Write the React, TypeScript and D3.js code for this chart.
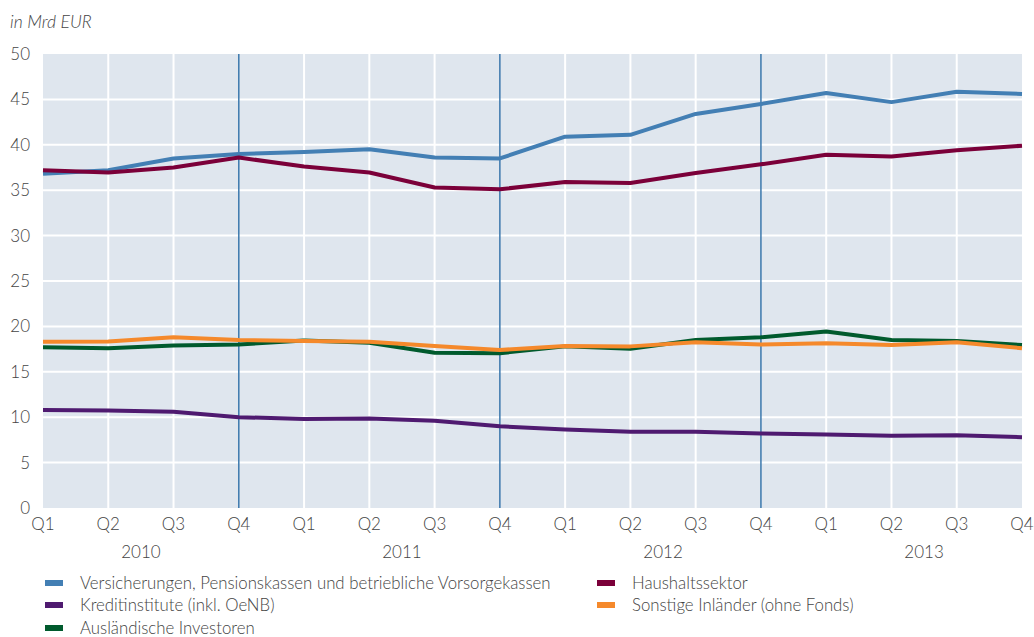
import React, { useEffect, useRef } from "react"
import * as d3 from "d3"

const quarters = ["Q1", "Q2", "Q3", "Q4"]
const years = ["2010", "2011", "2012", "2013"]
const yTicks = [0, 5, 10, 15, 20, 25, 30, 35, 40, 45, 50]

const versicherungen = [36.8, 37.2, 38.5, 39.0, 39.2, 39.5, 38.6, 38.5, 40.9, 41.1, 43.4, 44.5, 45.7, 44.7, 45.85, 45.6]
const haushalte = [37.2, 36.95, 37.5, 38.6, 37.6, 36.95, 35.3, 35.1, 35.9, 35.8, 36.9, 37.85, 38.9, 38.7, 39.4, 39.9]
const kreditinstitute = [10.8, 10.75, 10.6, 10.0, 9.8, 9.85, 9.6, 9.0, 8.65, 8.4, 8.4, 8.2, 8.1, 7.95, 8.0, 7.8]
const sonstige = [18.3, 18.35, 18.8, 18.5, 18.4, 18.3, 17.85, 17.4, 17.85, 17.8, 18.25, 18.0, 18.15, 17.95, 18.25, 17.6]
const ausland = [17.7, 17.6, 17.9, 18.0, 18.45, 18.2, 17.1, 17.05, 17.8, 17.55, 18.5, 18.8, 19.45, 18.5, 18.4, 17.95]

const series = [
  { name: "Versicherungen, Pensionskassen und betriebliche Vorsorgekassen", values: versicherungen, color: "#437fb4" },
  { name: "Haushaltssektor", values: haushalte, color: "#7b0039" },
  { name: "Kreditinstitute (inkl. OeNB)", values: kreditinstitute, color: "#4f1a70" },
  { name: "Sonstige Inländer (ohne Fonds)", values: sonstige, color: "#f5892b" },
  { name: "Ausländische Investoren", values: ausland, color: "#005a2d" },
]

const font = "Lato, 'Open Sans', sans-serif"
const textColor = "#444"

export default function App() {
  const ref = useRef<SVGSVGElement>(null)

  useEffect(() => {
    const svg = d3.select(ref.current)
    svg.selectAll("*").remove()

    const width = 1034
    const height = 637
    const margin = { top: 54, left: 43, right: 12, bottom: 129 }
    const innerWidth = width - margin.left - margin.right
    const innerHeight = height - margin.top - margin.bottom

    const labels = years.flatMap(y => quarters.map(q => `${q} ${y}`))

    const x = d3.scalePoint().domain(labels).range([0, innerWidth])
    const y = d3.scaleLinear().domain([0, 50]).range([innerHeight, 0])

    svg.append("text")
      .attr("x", 10).attr("y", 28)
      .attr("font-family", font).attr("font-style", "italic").attr("font-weight", 300)
      .attr("font-size", 17.5).attr("fill", textColor)
      .text("in Mrd EUR")

    const g = svg.append("g").attr("transform", `translate(${margin.left},${margin.top})`)

    g.append("rect")
      .attr("width", innerWidth).attr("height", innerHeight)
      .attr("fill", "#dfe6ee")

    // horizontal grid
    g.selectAll(".hgrid").data(yTicks.filter(t => t > 0 && t < 50)).enter().append("line")
      .attr("x1", 0).attr("x2", innerWidth)
      .attr("y1", d => y(d)).attr("y2", d => y(d))
      .attr("stroke", "#fff").attr("stroke-width", 2)

    // vertical grid, year separators in blue
    g.selectAll(".vgrid").data(labels.slice(1, -1)).enter().append("line")
      .attr("x1", d => x(d)!).attr("x2", d => x(d)!)
      .attr("y1", 0).attr("y2", innerHeight)
      .attr("stroke", d => d.startsWith("Q4") ? "#3b78ad" : "#fff")
      .attr("stroke-width", d => d.startsWith("Q4") ? 1.5 : 2)

    // y labels
    g.selectAll(".ylab").data(yTicks).enter().append("text")
      .attr("x", -13).attr("y", d => y(d) + 6)
      .attr("text-anchor", "end")
      .attr("font-family", font).attr("font-weight", 300).attr("font-size", 17)
      .attr("fill", textColor)
      .text(d => d)

    // x labels
    g.selectAll(".xlab").data(labels).enter().append("text")
      .attr("x", d => x(d)!).attr("y", innerHeight + 22)
      .attr("text-anchor", "middle")
      .attr("font-family", font).attr("font-weight", 300).attr("font-size", 17)
      .attr("fill", textColor)
      .text(d => d.split(" ")[0])

    g.selectAll(".year").data(years).enter().append("text")
      .attr("x", d => (x(`Q1 ${d}`)! + x(`Q4 ${d}`)!) / 2).attr("y", innerHeight + 50)
      .attr("text-anchor", "middle")
      .attr("font-family", font).attr("font-weight", 300).attr("font-size", 17)
      .attr("fill", textColor)
      .text(d => d)

    const line = d3.line<number>()
      .x((_, i) => x(labels[i])!)
      .y(d => y(d))

    const drawOrder = [0, 1, 2, 4, 3]
    drawOrder.forEach(i => {
      g.append("path")
        .attr("d", line(series[i].values))
        .attr("fill", "none")
        .attr("stroke", series[i].color)
        .attr("stroke-width", 4)
        .attr("stroke-linejoin", "round")
    })

    // legend
    const legendPos = [
      [45, 583], [597, 583],
      [45, 605], [597, 605],
      [45, 628],
    ]
    series.forEach((s, k) => {
      const [lx, ly] = legendPos[k]
      svg.append("rect")
        .attr("x", lx).attr("y", ly - 3)
        .attr("width", 18).attr("height", 6)
        .attr("fill", s.color)
      svg.append("text")
        .attr("x", lx + 35).attr("y", ly + 6)
        .attr("font-family", font).attr("font-weight", 300).attr("font-size", 16.8)
        .attr("fill", textColor)
        .text(s.name)
    })
  }, [])

  return <svg ref={ref} width={1034} height={637} style={{ display: "block", position: "absolute", left: 0, top: 0 }} />
}
